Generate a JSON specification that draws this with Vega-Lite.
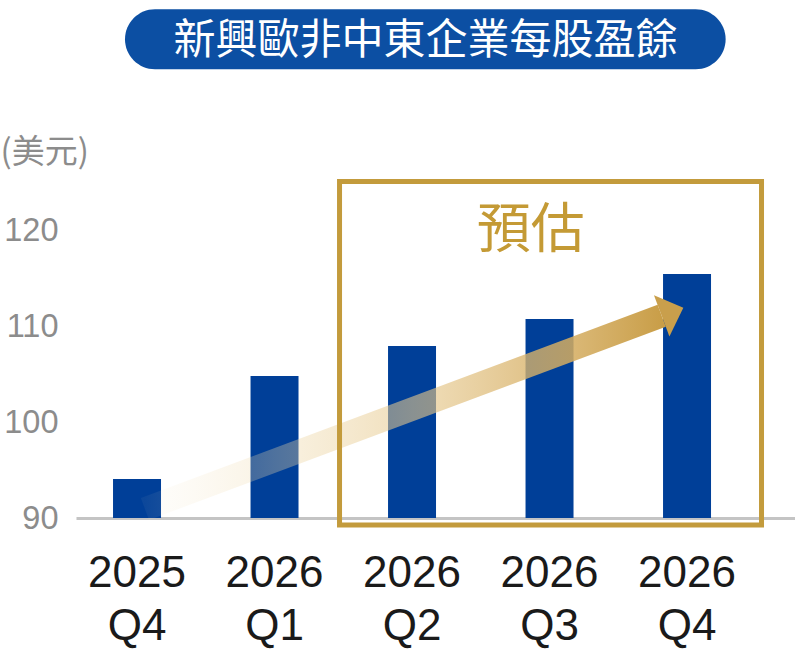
{
  "$schema": "https://vega.github.io/schema/vega-lite/v6.json",
  "width": 719,
  "height": 336,
  "autosize": "none",
  "padding": {"left": 76, "top": 182, "right": 0, "bottom": 136},
  "background": "white",
  "config": {
    "view": {"stroke": null},
    "font": "Liberation Sans",
    "axisY": {
      "tickCount": 4,
      "titleAngle": 0,
      "titleAlign": "left",
      "titleBaseline": "middle",
      "titleX": -76,
      "titleY": -30,
      "titleFont": "Noto Sans CJK TC",
      "titleFontSize": 33,
      "titleFontWeight": "normal",
      "titleColor": "#8c8c8c",
      "labelFont": "Liberation Sans",
      "labelFontSize": 32.5,
      "labelColor": "#8c8c8c",
      "labelPadding": 18,
      "ticks": false,
      "domain": false,
      "grid": false
    }
  },
  "resolve": {"scale": {"x": "independent"}, "axis": {"x": "independent"}},
  "layer": [
    {
      "data": {
        "values": [
          {"period": "2025 Q4", "eps": 94.06},
          {"period": "2026 Q1", "eps": 104.79},
          {"period": "2026 Q2", "eps": 107.92},
          {"period": "2026 Q3", "eps": 110.73},
          {"period": "2026 Q4", "eps": 115.42}
        ]
      },
      "mark": {"type": "bar", "color": "#003f98"},
      "encoding": {
        "x": {
          "field": "period",
          "type": "nominal",
          "sort": null,
          "scale": {"paddingInner": 0.651, "paddingOuter": 0.44, "align": 0.306},
          "axis": {
            "title": null,
            "labelAngle": 0,
            "labelExpr": "split(datum.label, ' ')",
            "labelFont": "Liberation Sans",
            "labelFontSize": 44,
            "labelColor": "#1a1a1a",
            "labelLineHeight": 53,
            "labelPadding": 33,
            "ticks": false,
            "domainColor": "#c4c4c4",
            "domainWidth": 3
          }
        },
        "y": {
          "field": "eps",
          "type": "quantitative",
          "title": "(美元)",
          "scale": {"domain": [90, 125], "zero": false, "nice": false},
          "axis": {"values": [90, 100, 110, 120]}
        },
        "y2": {"datum": 90}
      }
    },
    {
      "layer": [
        {
          "data": {"values": [{"x0": 0.058, "y0": 90.94}, {"x0": 3.816, "y0": 111.06}]},
          "mark": {
            "type": "line",
            "strokeWidth": 23.4,
            "strokeCap": "butt",
            "clip": false,
            "stroke": {
              "gradient": "linear",
              "x1": 0, "y1": 0, "x2": 1, "y2": 0,
              "stops": [
                {"offset": 0, "color": "rgba(243, 228, 196, 0.05)"},
                {"offset": 0.25, "color": "rgba(238, 216, 168, 0.33)"},
                {"offset": 0.52, "color": "rgba(230, 200, 140, 0.6)"},
                {"offset": 0.78, "color": "rgba(215, 176, 102, 0.82)"},
                {"offset": 1, "color": "rgba(201, 158, 72, 1)"}
              ]
            }
          },
          "encoding": {
            "x": {"field": "x0", "type": "quantitative", "scale": {"domain": [-0.4436, 4.7855], "nice": false, "zero": false}, "axis": null},
            "y": {"field": "y0", "type": "quantitative", "title": "(美元)"}
          }
        },
        {
          "data": {"values": [{"x0": 3.891, "y0": 111.46}]},
          "mark": {
            "type": "point",
            "shape": "M-0.5,-1L0.55,0L-0.5,1Z",
            "size": 1936,
            "angle": 339.5,
            "filled": true,
            "opacity": 1,
            "color": "#c99f4c",
            "clip": false
          },
          "encoding": {
            "x": {"field": "x0", "type": "quantitative", "scale": {"domain": [-0.4436, 4.7855], "nice": false, "zero": false}, "axis": null},
            "y": {"field": "y0", "type": "quantitative", "title": "(美元)"}
          }
        },
        {
          "data": {"values": [{"x0": 1.473, "x1": 4.542, "y0": 125.05, "y1": 89.27}]},
          "mark": {"type": "rect", "filled": false, "color": "#c39b3c", "strokeWidth": 5, "clip": false},
          "encoding": {
            "x": {"field": "x0", "type": "quantitative", "scale": {"domain": [-0.4436, 4.7855], "nice": false, "zero": false}, "axis": null},
            "x2": {"field": "x1"},
            "y": {"field": "y0", "type": "quantitative", "title": "(美元)"},
            "y2": {"field": "y1"}
          }
        },
        {
          "data": {"values": [{"x0": 2.864, "y0": 119.8, "label": "預估"}]},
          "mark": {"type": "text", "font": "Noto Sans CJK TC", "fontSize": 54, "color": "#c49a35", "align": "center", "baseline": "middle", "clip": false},
          "encoding": {
            "x": {"field": "x0", "type": "quantitative", "scale": {"domain": [-0.4436, 4.7855], "nice": false, "zero": false}, "axis": null},
            "y": {"field": "y0", "type": "quantitative", "title": "(美元)"},
            "text": {"field": "label"}
          }
        },
        {
          "data": {"values": [{"x0": -0.0873, "x1": 4.281, "y0": 142.99, "y1": 136.74}]},
          "mark": {"type": "rect", "color": "#0c4fa3", "cornerRadius": 30, "clip": false},
          "encoding": {
            "x": {"field": "x0", "type": "quantitative", "scale": {"domain": [-0.4436, 4.7855], "nice": false, "zero": false}, "axis": null},
            "x2": {"field": "x1"},
            "y": {"field": "y0", "type": "quantitative", "title": "(美元)"},
            "y2": {"field": "y1"}
          }
        },
        {
          "data": {"values": [{"x0": 2.098, "y0": 139.71, "label": "新興歐非中東企業每股盈餘"}]},
          "mark": {"type": "text", "font": "Noto Sans CJK TC", "fontSize": 42, "color": "white", "align": "center", "baseline": "middle", "clip": false},
          "encoding": {
            "x": {"field": "x0", "type": "quantitative", "scale": {"domain": [-0.4436, 4.7855], "nice": false, "zero": false}, "axis": null},
            "y": {"field": "y0", "type": "quantitative", "title": "(美元)"},
            "text": {"field": "label"}
          }
        }
      ]
    }
  ]
}
